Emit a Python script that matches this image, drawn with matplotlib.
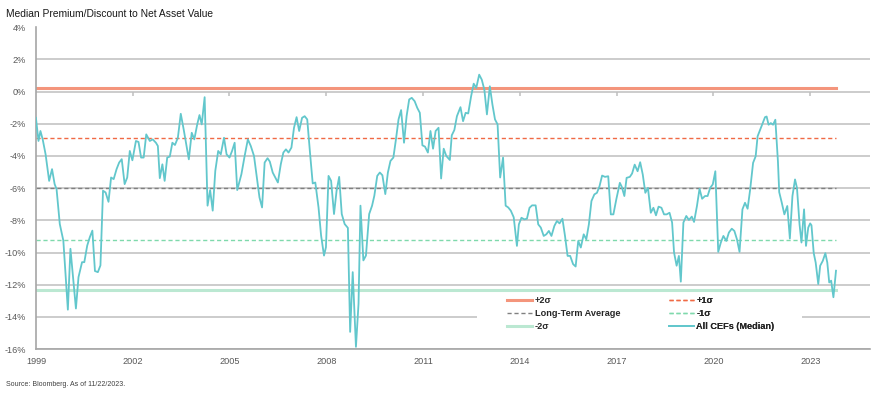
import matplotlib
matplotlib.use('Agg')
import matplotlib.pyplot as plt
from matplotlib.patches import Rectangle
import numpy as np

plt.rcParams['font.family'] = ['Liberation Sans Narrow', 'Liberation Sans', 'DejaVu Sans']

# median premium/discount of all CEFs, decimal year vs percent
years = [
    1999.00, 1999.08, 1999.14, 1999.21, 1999.30, 1999.41, 1999.50, 1999.58, 1999.64, 1999.74,
    1999.85, 1999.99, 2000.07, 2000.24, 2000.32, 2000.43, 2000.50, 2000.59, 2000.67, 2000.75,
    2000.83, 2000.92, 2001.00, 2001.08, 2001.16, 2001.25, 2001.33, 2001.41, 2001.50, 2001.58,
    2001.66, 2001.75, 2001.83, 2001.91, 2001.99, 2002.10, 2002.18, 2002.26, 2002.34, 2002.42,
    2002.53, 2002.62, 2002.72, 2002.78, 2002.84, 2002.92, 2002.99, 2003.07, 2003.15, 2003.23,
    2003.31, 2003.40, 2003.49, 2003.58, 2003.74, 2003.83, 2003.91,
    2004.00, 2004.07, 2004.14, 2004.23, 2004.32, 2004.40, 2004.48, 2004.56, 2004.65, 2004.73,
    2004.83, 2004.91, 2005.00, 2005.08, 2005.16, 2005.24, 2005.37, 2005.47, 2005.57, 2005.66,
    2005.76, 2005.85, 2005.93, 2006.01, 2006.09, 2006.18, 2006.25, 2006.34, 2006.42, 2006.50,
    2006.59, 2006.67, 2006.75, 2006.83, 2006.92, 2007.00, 2007.08, 2007.16, 2007.25, 2007.33,
    2007.41, 2007.50, 2007.58, 2007.66, 2007.76, 2007.84, 2007.93, 2007.99, 2008.07, 2008.15,
    2008.24, 2008.32, 2008.40, 2008.48, 2008.57, 2008.67, 2008.74, 2008.82, 2008.92, 2009.00,
    2009.06,
    2009.15, 2009.23, 2009.33, 2009.42, 2009.49, 2009.58, 2009.66, 2009.74, 2009.83, 2009.91,
    2009.99, 2010.08, 2010.16, 2010.24, 2010.32, 2010.41, 2010.49, 2010.57, 2010.65, 2010.74,
    2010.82, 2010.90, 2010.98, 2011.06, 2011.15, 2011.23, 2011.31, 2011.39, 2011.48, 2011.56,
    2011.64, 2011.72, 2011.83, 2011.89, 2011.97, 2012.05, 2012.16, 2012.24, 2012.32, 2012.40,
    2012.49, 2012.57, 2012.65, 2012.74, 2012.82, 2012.90, 2012.98, 2013.07, 2013.15, 2013.23,
    2013.31, 2013.39, 2013.48, 2013.56, 2013.64, 2013.72, 2013.81,
    2013.91, 2013.97, 2014.05, 2014.14, 2014.22, 2014.30, 2014.38, 2014.49, 2014.57, 2014.65,
    2014.74, 2014.82, 2014.90, 2014.98, 2015.07, 2015.15, 2015.23, 2015.32, 2015.40, 2015.48,
    2015.56, 2015.65, 2015.73, 2015.81, 2015.89, 2015.98, 2016.06, 2016.14, 2016.22, 2016.31,
    2016.39, 2016.47, 2016.55, 2016.64, 2016.74, 2016.82, 2016.90, 2016.99, 2017.10, 2017.16,
    2017.24, 2017.31, 2017.41, 2017.48, 2017.56, 2017.65, 2017.73, 2017.81, 2017.89, 2017.97,
    2018.06, 2018.14, 2018.22, 2018.30, 2018.39, 2018.47, 2018.55, 2018.64, 2018.72,
    2018.78, 2018.86, 2018.93, 2018.99, 2019.07, 2019.16, 2019.24, 2019.33, 2019.40, 2019.49,
    2019.57, 2019.65, 2019.74, 2019.82, 2019.90, 2019.98, 2020.06, 2020.15, 2020.23, 2020.31,
    2020.40, 2020.48, 2020.57, 2020.65, 2020.73, 2020.81, 2020.90, 2020.98, 2021.06, 2021.14,
    2021.23, 2021.31, 2021.37, 2021.45, 2021.54, 2021.60, 2021.65, 2021.71, 2021.78, 2021.85,
    2021.92, 2022.00, 2022.04, 2022.12, 2022.20, 2022.29, 2022.37, 2022.45, 2022.53, 2022.59,
    2022.67, 2022.73, 2022.81, 2022.87, 2022.94, 2023.00, 2023.04, 2023.11, 2023.17, 2023.25,
    2023.31, 2023.39, 2023.47, 2023.53, 2023.59, 2023.65, 2023.72, 2023.80,
]
median = [
    -1.63, -3.07, -2.45, -2.97, -3.90, -5.55, -4.82, -5.75, -6.06, -8.23,
    -9.26, -13.55, -9.77, -13.48, -11.53, -10.60, -10.60, -9.57, -9.05, -8.64,
    -11.15, -11.22, -10.80, -6.16, -6.27, -6.85, -5.34, -5.44, -4.82, -4.41,
    -4.20, -5.75, -5.34, -3.69, -4.27, -3.07, -3.13, -4.10, -4.10, -2.66,
    -3.07, -2.97, -3.18, -3.38, -5.38, -4.52, -5.55, -4.10, -4.04, -3.18,
    -3.32, -2.87, -1.38, -2.35, -4.21, -2.56, -2.97,
    -2.04, -1.46, -2.04, -0.35, -7.09, -6.12, -7.40, -4.93, -3.69, -3.90,
    -2.87, -3.90, -4.10, -3.69, -3.18, -6.12, -5.13, -4.00, -2.97, -3.38,
    -4.00, -5.34, -6.58, -7.20, -4.41, -4.14, -4.35, -5.03, -5.34, -5.65,
    -4.52, -3.79, -3.59, -3.79, -3.48, -2.25, -1.59, -2.45, -1.63, -1.53,
    -1.73, -3.90, -5.71, -5.65, -7.20, -8.95, -10.19, -9.67, -5.24, -5.55,
    -7.61, -6.16, -5.30, -7.61, -8.23, -8.47, -14.93, -11.22, -15.86, -13.18,
    -7.09,
    -10.49, -10.19, -7.61, -7.09, -6.47, -5.24, -5.03, -5.20, -6.37, -5.03,
    -4.31, -4.10, -2.97, -1.73, -1.15, -3.18, -1.53, -0.49, -0.39, -0.60,
    -1.01, -1.32, -3.34, -3.42, -3.79, -2.45, -3.55, -2.45, -2.25, -5.40,
    -3.55, -4.00, -4.25, -2.72, -2.39, -1.53, -0.97, -1.84, -1.32, -1.36,
    -0.29, 0.49, 0.23, 1.05, 0.74, 0.12, -1.42, 0.33, -0.80, -1.73,
    -2.04, -5.34, -4.10, -7.09, -7.20, -7.40, -7.81,
    -9.59, -8.25, -7.84, -7.94, -7.90, -7.22, -7.07, -7.07, -8.25, -8.45,
    -8.97, -8.87, -8.66, -8.97, -8.35, -8.04, -8.19, -7.90, -8.97, -10.21,
    -10.21, -10.72, -10.87, -9.28, -9.69, -8.87, -9.18, -8.25, -6.80, -6.39,
    -6.29, -5.88, -5.22, -5.30, -5.26, -7.63, -7.63, -6.70, -5.67, -5.92,
    -6.49, -5.36, -5.30, -5.09, -4.54, -4.95, -4.39, -5.15, -6.29, -5.98,
    -7.53, -7.22, -7.69, -7.15, -7.22, -7.63, -7.63, -7.53, -8.14,
    -10.00, -10.82, -10.21, -11.81, -8.14, -7.73, -7.98, -7.77, -8.10, -7.11,
    -6.04, -6.66, -6.49, -6.49, -5.98, -5.77, -4.95, -9.96, -9.38, -8.97,
    -9.28, -8.76, -8.52, -8.66, -9.18, -9.96, -7.32, -6.91, -7.28, -6.08,
    -4.43, -4.02, -2.78, -2.37, -1.92, -1.59, -1.55, -2.06, -1.96, -2.06,
    -1.75, -4.33, -6.25, -6.91, -7.63, -7.11, -9.13, -6.49, -5.46, -5.98,
    -8.25, -9.38, -7.32, -9.59, -8.45, -8.19, -8.31, -10.04, -10.62, -11.96,
    -10.82, -10.52, -10.04, -10.62, -11.86, -11.75, -12.78, -11.13,
]

# long-term average and standard deviation bands
band_labels = ['+2\u03c3', '+1\u03c3', 'Long-Term Average', '-1\u03c3', '-2\u03c3']
band_values = [0.2, -2.9, -6.0, -9.2, -12.3]
band_colors = ['#F4957C', '#F06A45', '#808080', '#7FD9AC', '#BBE8D2']
band_styles = ['-', '--', '--', '--', '-']
band_widths = [2.2, 1.0, 1.0, 1.0, 2.2]

xtick_years = [1999, 2002, 2005, 2008, 2011, 2014, 2017, 2020, 2023]
ytick_vals = [4, 2, 0, -2, -4, -6, -8, -10, -12, -14, -16]

fig = plt.figure(figsize=(8.76, 3.94), dpi=100)
ax = fig.add_axes([0.041, 0.114, 0.952, 0.817])

ax.set_xlim(1999, 2024.85)
ax.set_ylim(-16, 4)
ax.set_yticks(ytick_vals)
ax.set_yticklabels(['%d%%' % v for v in ytick_vals])
ax.set_xticks(xtick_years)
ax.set_xticklabels([str(y) for y in xtick_years])

grid_c = '#BFBFBF'
for v in ytick_vals[1:]:
    ax.axhline(v, color=grid_c, lw=1.1, zorder=1)
ax.vlines(xtick_years[1:], -0.25, 0, color=grid_c, lw=1.1, zorder=1)

handles = {}
for lab, v, c, ls, lw in zip(band_labels, band_values, band_colors, band_styles, band_widths):
    h, = ax.plot([years[0], years[-1]], [v, v], color=c, ls=ls, lw=lw, zorder=2,
                 label=lab, dashes=(3, 2) if ls == '--' else (None, None))
    handles[lab] = h
h, = ax.plot(years, median, color='#62C7CC', lw=1.3, zorder=3, label='All CEFs (Median)')
handles['All CEFs (Median)'] = h

for s in ['top', 'right']:
    ax.spines[s].set_visible(False)
for s in ['left', 'bottom']:
    ax.spines[s].set_color('#A6A6A6')
    ax.spines[s].set_linewidth(1.2)

ax.tick_params(axis='both', length=0, labelsize=6.6, colors='#595959')
ax.tick_params(axis='x', pad=6)
ax.tick_params(axis='y', pad=7)

# white box behind the legend (below the -2 sigma line)
ax.add_patch(Rectangle((0.529, 0.004), 0.39, 0.164, transform=ax.transAxes,
                       facecolor='white', edgecolor='none', zorder=4))

cols = [['+2\u03c3', 'Long-Term Average', '-2\u03c3'],
        ['+1\u03c3', '-1\u03c3', 'All CEFs (Median)']]
col_x = [0.565, 0.759]
for keys, x0 in zip(cols, col_x):
    leg = ax.legend([handles[k] for k in keys], keys, loc='upper left',
                    bbox_to_anchor=(x0, 0.165), frameon=False,
                    fontsize=6.6, handlelength=2.7, handletextpad=0.3, labelspacing=0.45,
                    borderaxespad=0.0, borderpad=0.0)
    leg.set_zorder(5)
    for t in leg.get_texts():
        t.set_fontweight('bold')
        t.set_color('#262626')
    ax.add_artist(leg)

fig.text(0.007, 0.965, 'Median Premium/Discount to Net Asset Value', fontsize=7.4, color='#1A1A1A',
         va='center', ha='left')
fig.text(0.007, 0.025, 'Source: Bloomberg. As of 11/22/2023.', fontsize=5.0, color='#404040',
         va='center', ha='left')

fig.savefig('out.png', dpi=100)
